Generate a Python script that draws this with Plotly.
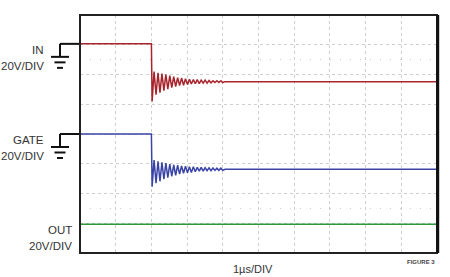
import plotly.graph_objects as go

# ---- data (screen divisions: x = µs, y = vertical divisions 0..8) ----
ring_t = [2.02, 2.075, 2.13, 2.185, 2.24, 2.295, 2.35, 2.405, 2.46, 2.515, 2.57, 2.625,
          2.68, 2.735, 2.79, 2.845, 2.9, 2.955, 3.01, 3.065, 3.12, 3.175, 3.23, 3.285,
          3.34, 3.395, 3.45, 3.505, 3.56, 3.615, 3.67, 3.725, 3.78, 3.835, 3.89, 3.945, 4.0]

in_high = 7.03
in_settle = 5.76
in_ring = [5.09, 6.10, 5.32, 6.06, 5.39, 6.03, 5.46, 6.00, 5.51, 5.96, 5.56, 5.93,
           5.59, 5.89, 5.63, 5.88, 5.64, 5.86, 5.66, 5.84, 5.68, 5.83, 5.69, 5.83,
           5.69, 5.81, 5.71, 5.81, 5.71, 5.80, 5.72, 5.79, 5.73, 5.79, 5.73, 5.79, 5.73]

gate_high = 4.0
gate_settle = 2.815
gate_ring = [2.23, 3.12, 2.345, 3.085, 2.41, 3.05, 2.48, 3.02, 2.53, 2.985, 2.58, 2.966,
             2.61, 2.95, 2.65, 2.93, 2.68, 2.92, 2.70, 2.90, 2.71, 2.90, 2.73, 2.88,
             2.75, 2.88, 2.75, 2.865, 2.765, 2.865, 2.765, 2.855, 2.775, 2.85, 2.78, 2.85, 2.78]

out_level = 0.97

t_step = 2.0
t_end = 10.0
channel_names = ["IN", "GATE", "OUT"]
channel_scale = "20V/DIV"
x_label = "1µs/DIV"
figure_label = "FIGURE 3"

# ---- traces ----
t_full = [0.0, t_step] + ring_t + [4.06, t_end]
in_full = [in_high, in_high] + in_ring + [in_settle, in_settle]
gate_full = [gate_high, gate_high] + gate_ring + [gate_settle, gate_settle]

W, H = 450, 277
L, R, T, B = 80, 13, 15, 24
PW, PH = W - L - R, H - T - B

fig = go.Figure()
fig.add_trace(go.Scatter(x=t_full, y=in_full, mode="lines",
                         line=dict(color="#a8242c", width=1.5), hoverinfo="skip"))
fig.add_trace(go.Scatter(x=t_full, y=gate_full, mode="lines",
                         line=dict(color="#3a44a6", width=1.5), hoverinfo="skip"))
fig.add_trace(go.Scatter(x=[0.0, t_end], y=[out_level, out_level], mode="lines",
                         line=dict(color="#2f9a3c", width=1.5), hoverinfo="skip"))


def py(px):
    """pixel y (from top of page) -> paper y"""
    return (H - B - px) / PH


def px_of_level(level):
    return H - B - level / 8 * PH


def pxx(px):
    return (px - L) / PW


shapes = []
# sparse dotted lines
for lv in [6.5, 1.5]:
    shapes.append(dict(type="line", xref="paper", yref="y", x0=0, x1=1, y0=lv, y1=lv,
                       line=dict(color="#c8c8c8", width=1, dash="1px,9px"), layer="below"))

# ground marker lead lines and symbols
for level in [in_high, gate_high]:
    yp = px_of_level(level)
    shapes.append(dict(type="line", xref="paper", yref="paper",
                       x0=pxx(60), x1=pxx(80), y0=py(yp), y1=py(yp),
                       line=dict(color="#111", width=2)))
    shapes.append(dict(type="line", xref="paper", yref="paper",
                       x0=pxx(60), x1=pxx(60), y0=py(yp), y1=py(yp + 13),
                       line=dict(color="#111", width=2)))
    for dy, hw in [(13, 9), (18.5, 5.5), (24, 3)]:
        shapes.append(dict(type="line", xref="paper", yref="paper",
                           x0=pxx(60 - hw), x1=pxx(60 + hw), y0=py(yp + dy), y1=py(yp + dy),
                           line=dict(color="#111", width=2)))

# frame
shapes.append(dict(type="rect", xref="paper", yref="paper", x0=0, x1=1, y0=0, y1=1,
                   line=dict(color="#222", width=2)))
shapes.append(dict(type="line", xref="paper", yref="paper", x0=1.002, x1=1.002, y0=0, y1=1,
                   line=dict(color="#111", width=3)))

annotations = []
lab_font = dict(family="Liberation Sans, Arial, sans-serif", size=11.5, color="#333")
in_px = px_of_level(in_high)
gate_px = px_of_level(gate_high)
out_px = px_of_level(out_level)
for name, ypx, xr in [(channel_names[0], in_px, 45), (channel_names[1], gate_px, 45),
                      (channel_names[2], out_px, 73)]:
    annotations.append(dict(text=name, xref="paper", yref="paper", x=pxx(xr), y=py(ypx + 6),
                            xanchor="right", yanchor="middle", showarrow=False, font=lab_font,
                            borderpad=0))
    annotations.append(dict(text=channel_scale, xref="paper", yref="paper", x=pxx(xr),
                            y=py(ypx + 22), xanchor="right", yanchor="middle",
                            showarrow=False, font=lab_font, borderpad=0))

annotations.append(dict(text=x_label, xref="paper", yref="paper", x=pxx(253), y=py(269),
                        xanchor="center", yanchor="middle", showarrow=False,
                        font=dict(family="Liberation Sans, Arial, sans-serif", size=11, color="#333")))
annotations.append(dict(text="<b>" + figure_label + "</b>", xref="paper", yref="paper",
                        x=pxx(437), y=py(262), xanchor="right", yanchor="middle",
                        showarrow=False,
                        font=dict(family="Liberation Sans, Arial, sans-serif", size=6, color="#444")))

fig.update_layout(
    width=W, height=H,
    margin=dict(l=L, r=R, t=T, b=B, pad=0),
    paper_bgcolor="white", plot_bgcolor="white",
    showlegend=False,
    shapes=shapes,
    annotations=annotations,
    xaxis=dict(range=[0, 10], dtick=1, tick0=0, showticklabels=False, ticks="",
               showgrid=True, gridcolor="#cfcfcf", gridwidth=1, griddash="dot",
               zeroline=False, showline=False, fixedrange=True),
    yaxis=dict(range=[0, 8], dtick=1, tick0=0, showticklabels=False, ticks="",
               showgrid=True, gridcolor="#cfcfcf", gridwidth=1, griddash="dot",
               zeroline=False, showline=False, fixedrange=True),
)

fig.write_html("out.html", config={"displayModeBar": False})
